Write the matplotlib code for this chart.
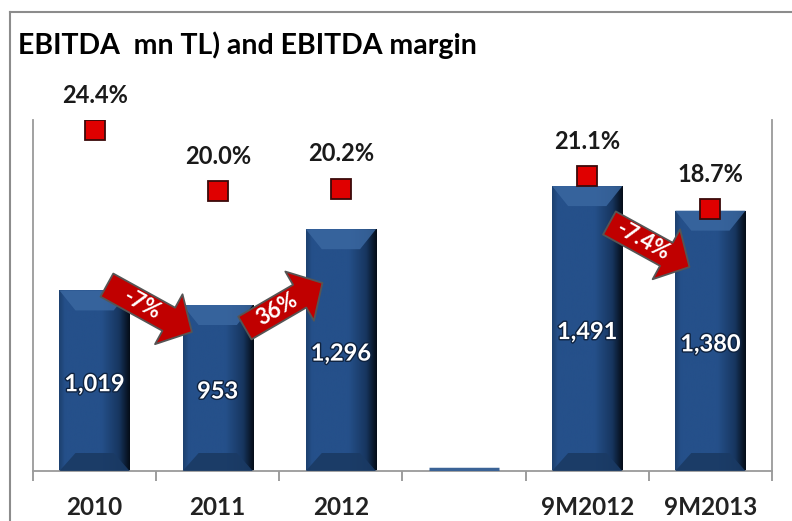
import matplotlib
matplotlib.use('Agg')
import matplotlib.pyplot as plt
import matplotlib.patheffects as pe
import numpy as np
from matplotlib.patches import Polygon, FancyArrowPatch
from matplotlib.colors import LinearSegmentedColormap
from matplotlib.lines import Line2D

plt.rcParams['font.family'] = ['Lato', 'DejaVu Sans']

# Data
categories = ['2010', '2011', '2012', '', '9M2012', '9M2013']
ebitda = [1019, 953, 1296, 0, 1491, 1380]
ebitda_labels = ['1,019', '953', '1,296', '', '1,491', '1,380']
margin = [24.4, 20.0, 20.2, np.nan, 21.1, 18.7]
margin_labels = ['24.4%', '20.0%', '20.2%', '', '21.1%', '18.7%']
change_labels = ['-7%', '36%', '-7.4%']
# arrow placement (tail, tip) in data coords -- layout only
arrow_pos = [((0.10, 1043), (0.79, 831)),
             ((1.22, 849), (1.85, 1053)),
             ((4.18, 1324), (4.83, 1125))]

W, H = 792, 521
fig = plt.figure(figsize=(W / 100, H / 100), dpi=100)
ax = fig.add_axes([33 / W, 50 / H, (772 - 33) / W, 351 / H])

ymin, ymax = 202, 1790
x = np.arange(len(categories))
ax.set_xlim(-0.5, len(categories) - 0.5)
ax.set_ylim(ymin, ymax)

bar_w = 0.57
px_x = (772 - 33) / len(categories)
px_y = 351 / (ymax - ymin)

grad = LinearSegmentedColormap.from_list(
    'bar', [(0, '#1d416f'), (0.08, '#25508a'), (0.6, '#25508a'),
            (0.85, '#173660'), (1.0, '#050d18')])
img = np.linspace(0, 1, 100).reshape(1, -1)

bars = ax.bar(x, ebitda, bar_w, color='#25508a', zorder=2)
for b, v in zip(bars, ebitda):
    x0, x1 = b.get_x(), b.get_x() + b.get_width()
    if v <= ymin:
        ax.hlines(ymin + 1.5 / px_y, x0, x1, color='#3b6396', lw=2.5, zorder=3)
        continue
    im = ax.imshow(img, cmap=grad, aspect='auto', extent=(x0, x1, ymin, v),
                   zorder=2.5, interpolation='bicubic')
    im.set_clip_path(b)
    d = 16 / px_x
    h = 20 / px_y
    ax.add_patch(Polygon([(x0, v), (x1, v), (x1 - d, v - h), (x0 + d, v - h)],
                         closed=True, fc='#3a67a0', ec='none', alpha=0.85, zorder=3))
    hb = 18 / px_y
    ax.add_patch(Polygon([(x0, ymin), (x1, ymin), (x1 - d, ymin + hb), (x0 + d, ymin + hb)],
                         closed=True, fc='#1a3a64', ec='none', alpha=0.9, zorder=3))

for xi, v, lab in zip(x, ebitda, ebitda_labels):
    if lab:
        ax.text(xi, (v + ymin) / 2 - 3 / px_y, lab, ha='center', va='center',
                color='white', fontsize=17, fontweight='bold', zorder=6,
                path_effects=[pe.withStroke(linewidth=2, foreground='#0f2340')])

ax.set_xticks(x)
ax.set_xticklabels(categories, fontsize=17.5, fontweight='bold', color='#222222')
ax.tick_params(axis='x', which='major', length=0, pad=18)
ax.set_xticks(np.arange(-0.5, len(categories)), minor=True)
ax.tick_params(axis='x', which='minor', length=7, color='#8c8c8c', width=1.2)
ax.set_yticks([])
for s in ['left', 'right', 'bottom']:
    ax.spines[s].set_color('#9a9a9a')
    ax.spines[s].set_linewidth(1.3)
ax.spines['top'].set_visible(False)

ax2 = ax.twinx()
ax2.set_ylim(0, 25.1)
ax2.set_yticks([])
for s in ax2.spines.values():
    s.set_visible(False)
ax2.plot(x, margin, 's', ms=15, mfc='#e00000', mec='#3a0a0a', mew=1.3,
         ls='none', zorder=5)
for xi, m, lab in zip(x, margin, margin_labels):
    if lab:
        ax2.annotate(lab, (xi, m), xytext=(0, 25), textcoords='offset points',
                     ha='center', va='center', fontsize=17, fontweight='bold',
                     color='#1a1a1a')

# change arrows
for lab, (tail, tip) in zip(change_labels, arrow_pos):
    arr = FancyArrowPatch(tail, tip,
                          arrowstyle='simple,head_length=19,head_width=41,tail_width=19',
                          mutation_scale=1, fc='#c00000', ec='#555555', lw=1.3,
                          shrinkA=0, shrinkB=0, zorder=7)
    ax.add_patch(arr)
    p0 = ax.transData.transform(tail)
    p1 = ax.transData.transform(tip)
    ang = np.degrees(np.arctan2(p1[1] - p0[1], p1[0] - p0[0]))
    tx = tail[0] + 0.42 * (tip[0] - tail[0])
    ty = tail[1] + 0.42 * (tip[1] - tail[1])
    ax.text(tx, ty, lab, rotation=ang, rotation_mode='anchor', ha='center',
            va='center', color='white', fontsize=16, fontweight='bold', zorder=8)

# outer frame and title
fig.add_artist(Line2D([9.5 / W, 9.5 / W], [0, 1 - 11.5 / H], color='#8c8c8c', lw=1.5))
fig.add_artist(Line2D([9.5 / W, 1], [1 - 11.5 / H, 1 - 11.5 / H], color='#8c8c8c', lw=1.5))
fig.text(18 / W, 1 - 45 / H, 'EBITDA  mn TL) and EBITDA margin', fontsize=20.5,
         fontweight='bold', color='black', ha='left', va='center')

fig.savefig('out.png', dpi=100)
